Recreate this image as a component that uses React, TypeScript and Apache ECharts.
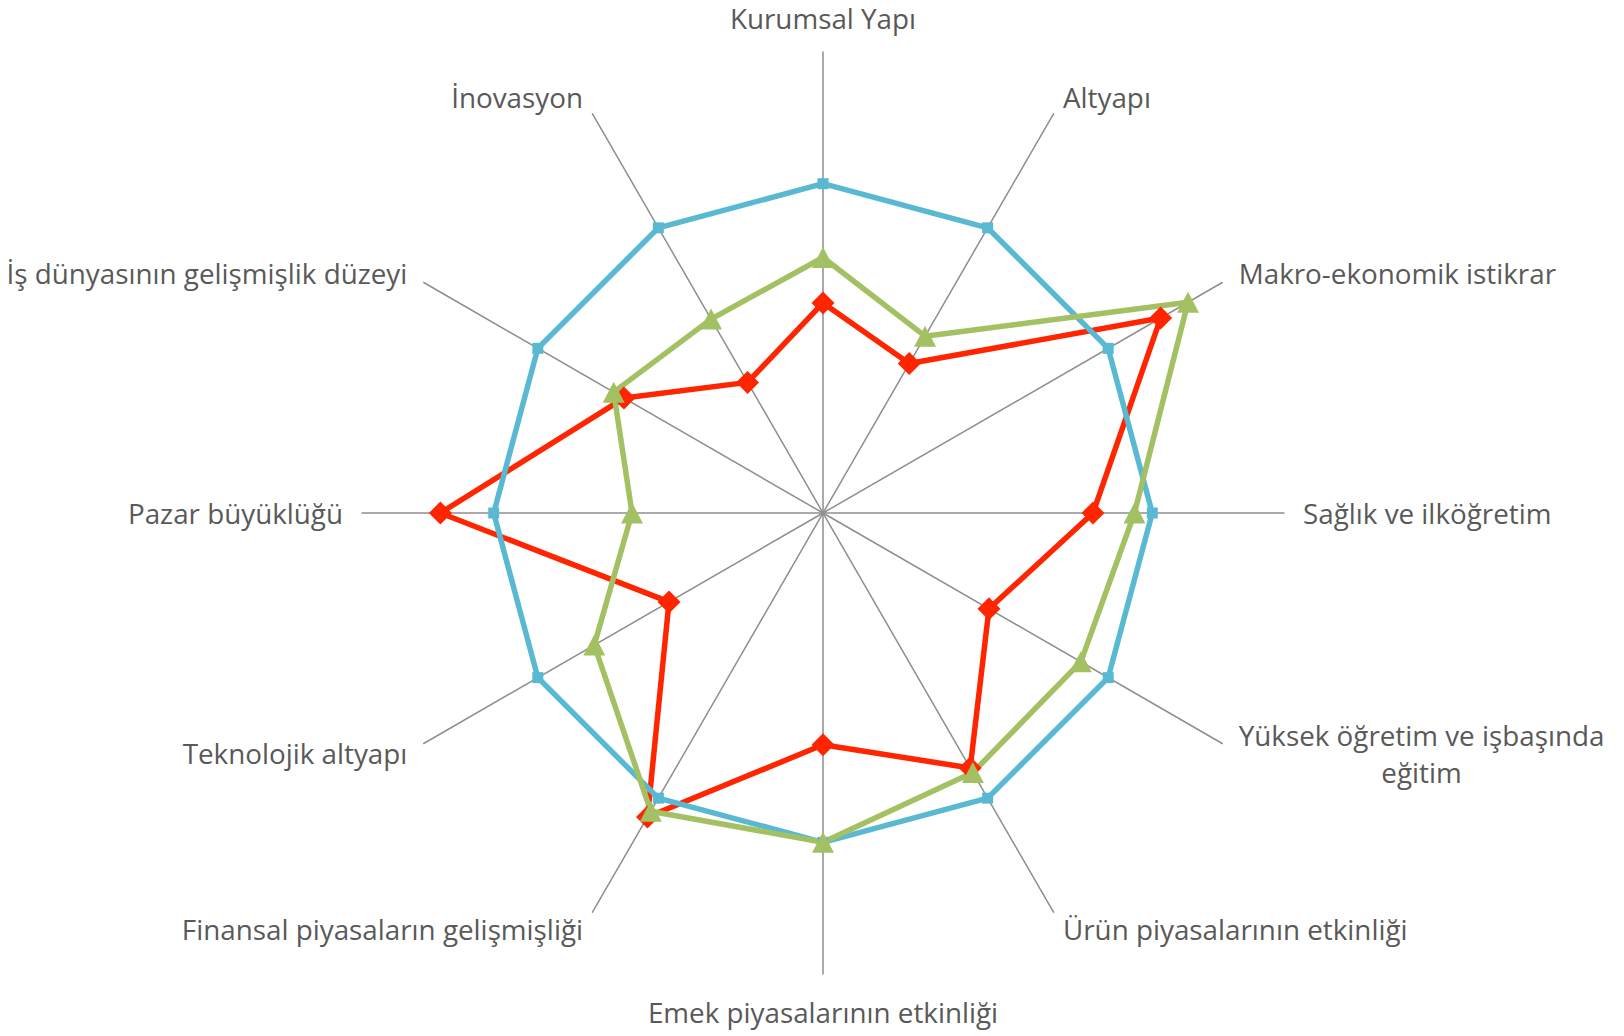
import React, { useEffect, useRef } from "react";
import * as echarts from "echarts";

// Categories in clockwise order starting at the top
const categories = [
  "Kurumsal Yapı",
  "Altyapı",
  "Makro-ekonomik istikrar",
  "Sağlık ve ilköğretim",
  "Yüksek öğretim ve işbaşında\neğitim",
  "Ürün piyasalarının etkinliği",
  "Emek piyasalarının etkinliği",
  "Finansal piyasaların gelişmişliği",
  "Teknolojik altyapı",
  "Pazar büyüklüğü",
  "İş dünyasının gelişmişlik düzeyi",
  "İnovasyon",
];

const blueValues = [5, 5, 5, 5, 5, 5, 5, 5, 5, 5, 5, 5];
const redValues = [3.19, 2.62, 5.92, 4.1, 2.91, 4.47, 3.52, 5.33, 2.7, 5.81, 3.49, 2.29];
const greenValues = [3.88, 3.1, 6.4, 4.73, 4.52, 4.55, 5.0, 5.23, 4.01, 2.9, 3.67, 3.4];

const axisMin = 0;
const axisMax = 7;

const BLUE = "#59B9D2";
const GREEN = "#A3C163";
const RED = "#FF2500";

export default function App() {
  const ref = useRef<HTMLDivElement>(null);

  useEffect(() => {
    if (!ref.current) return;
    const chart = echarts.init(ref.current, null, { renderer: "svg" });

    // ECharts lays radar indicators counter-clockwise; reorder for clockwise layout
    const order = [0, ...categories.map((_, i) => i).slice(1).reverse()];
    const pick = (arr: number[]) => order.map((i) => arr[i]);

    const font = "'Open Sans', sans-serif";
    const baseText = {
      fontFamily: font,
      fontSize: 27.8,
      color: "#595959",
      align: "center",
    };

    chart.setOption({
      animation: false,
      backgroundColor: "#ffffff",
      radar: {
        center: [823, 513],
        radius: 461,
        startAngle: 90,
        shape: "polygon",
        splitNumber: 7,
        indicator: order.map((i) => ({ name: categories[i], min: axisMin, max: axisMax })),
        nameGap: 19,
        axisName: {
          formatter: (name: string) => {
            const style = name === categories[0] ? "t" : "c";
            return name
              .split("\n")
              .map((l) => `{${style}|${l}}`)
              .join("\n");
          },
          rich: {
            c: { ...baseText, lineHeight: 37 },
            t: { ...baseText, lineHeight: 31 },
          },
          fontFamily: font,
          fontSize: 27.8,
          color: "#595959",
        },
        axisLine: { show: true, lineStyle: { color: "#8E8E8E", width: 1.5 } },
        splitLine: { show: false },
        splitArea: { show: false },
        axisTick: { show: false },
        axisLabel: { show: false },
      },
      series: [
        {
          type: "radar",
          silent: true,
          data: [
            {
              name: "red",
              value: pick(redValues),
              symbol: "diamond",
              symbolSize: 23,
              itemStyle: { color: RED },
              lineStyle: { color: RED, width: 5.5 },
            },
            {
              name: "blue",
              value: pick(blueValues),
              symbol: "rect",
              symbolSize: 11,
              itemStyle: { color: BLUE },
              lineStyle: { color: BLUE, width: 5.5 },
            },
            {
              name: "green",
              value: pick(greenValues),
              symbol: "triangle",
              symbolSize: [22, 21],
              itemStyle: { color: GREEN },
              lineStyle: { color: GREEN, width: 5.5 },
            },
          ],
        },
      ],
    });

    return () => chart.dispose();
  }, []);

  return (
    <div
      ref={ref}
      style={{ position: "absolute", left: 0, top: 0, width: 1624, height: 1036 }}
    />
  );
}
